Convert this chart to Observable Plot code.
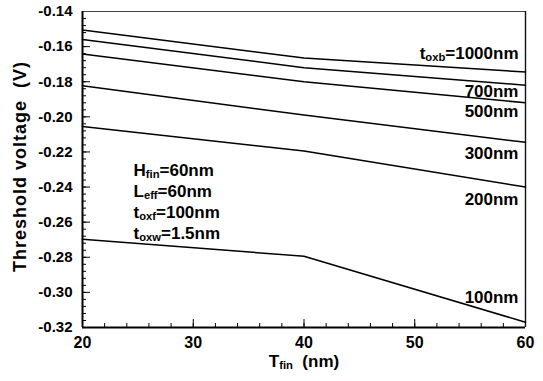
<!DOCTYPE html>
<html><head><meta charset="utf-8">
<script src="https://cdn.jsdelivr.net/npm/d3@7"></script>
<script src="https://cdn.jsdelivr.net/npm/@observablehq/plot@0.6"></script>
<style>
body{margin:0;background:#fff;}
svg text{white-space:pre;}
</style></head><body><div id="chart"></div>
<script>
// ---- data ----
const tfin = [20, 40, 60];
const vth1000 = [-0.1505, -0.1665, -0.1745];
const vth700  = [-0.1560, -0.1720, -0.1820];
const vth500  = [-0.1642, -0.1800, -0.1920];
const vth300  = [-0.1823, -0.1990, -0.2145];
const vth200  = [-0.2055, -0.2195, -0.2400];
const vth100  = [-0.2697, -0.2794, -0.3170];
const seriesNames = ["t{oxb}=1000nm", "700nm", "500nm", "300nm", "200nm", "100nm"];
const seriesValues = [vth1000, vth700, vth500, vth300, vth200, vth100];
const params = ["H{fin}=60nm", "L{eff}=60nm", "t{oxf}=100nm", "t{oxw}=1.5nm"];
const xTicks = [20, 30, 40, 50, 60];
const xTickLabels = ["20", "30", "40", "50", "60"];
const yTicks = [-0.32, -0.30, -0.28, -0.26, -0.24, -0.22, -0.20, -0.18, -0.16, -0.14];
const yTickLabels = ["-0.32", "-0.30", "-0.28", "-0.26", "-0.24", "-0.22", "-0.20", "-0.18", "-0.16", "-0.14"];
const xTitle = "T{fin}  (nm)";
const yTitle = "Threshold voltage  (V)";

// ---- build ----
const xMinor = d3.range(20, 60.001, 2);
const yMinor = d3.range(0, 46).map(i => +(-0.32 + i * 0.004).toFixed(3));
const rows = seriesNames.flatMap((s, i) => tfin.map((t, j) => ({series: s, t, v: seriesValues[i][j]})));
const FONT = "'Liberation Sans', Arial, Helvetica, sans-serif";
const labelDy = [-19, 6, 9, 11, 12, -25];

const plot = Plot.plot({
  width: 543, height: 381,
  marginLeft: 82, marginRight: 18, marginTop: 11, marginBottom: 54,
  x: {domain: [20, 60], label: null},
  y: {domain: [-0.32, -0.14], label: null},
  style: {fontFamily: FONT, fontWeight: "bold", background: "#fff", color: "#000", overflow: "visible"},
  marks: [
    Plot.axisX(xMinor, {tickSize: 4, dy: -4, fill: "none", label: null}),
    Plot.axisX(xTicks, {tickSize: 8, dy: -8, fill: "none", label: null}),
    Plot.axisX(xTicks, {tickSize: 0, tickPadding: 9, fontSize: 16, label: null, tickFormat: d => xTickLabels[xTicks.indexOf(d)]}),
    Plot.axisY(yMinor, {tickSize: 4, dx: 4, fill: "none", label: null}),
    Plot.axisY(yTicks, {tickSize: 8, dx: 8, fill: "none", label: null}),
    Plot.axisY(yTicks, {tickSize: 0, tickPadding: 10, fontSize: 15, label: null, tickFormat: d => yTickLabels[yTicks.indexOf(d)]}),
    Plot.ruleY([-0.14], {stroke: "#444", strokeWidth: 1}),
    Plot.ruleX([60], {stroke: "#111", strokeWidth: 1.4}),
    Plot.ruleX([20], {stroke: "#000", strokeWidth: 2}),
    Plot.ruleY([-0.32], {stroke: "#000", strokeWidth: 2}),
    Plot.line(rows, {x: "t", y: "v", z: "series", stroke: "#000", strokeWidth: 1.5}),
    ...seriesNames.map((s, i) => Plot.text([{t: tfin[tfin.length - 1], v: seriesValues[i][tfin.length - 1], s}],
      {x: "t", y: "v", text: "s", textAnchor: "end", dx: -7, dy: labelDy[i], fontSize: 17, fontWeight: "bold"})),
    ...params.map((p, i) => Plot.text([p], {frameAnchor: "top-left", text: d => d, textAnchor: "start", dx: 51, dy: 152 + 21 * i, fontSize: 17, fontWeight: "bold"})),
    Plot.text([xTitle], {frameAnchor: "bottom", text: d => d, textAnchor: "middle", dy: 39, fontSize: 17, fontWeight: "bold"}),
    Plot.text([yTitle], {frameAnchor: "left", text: d => d, textAnchor: "middle", rotate: -90, dx: -62, dy: -3, fontSize: 18, fontWeight: "bold"})
  ]
});

// subscripts
plot.querySelectorAll("text").forEach(t => {
  const s = t.textContent;
  if (s === yTitle) t.setAttribute("letter-spacing", "1");
  if (!s.includes("{")) return;
  t.textContent = "";
  let shifted = false;
  s.split(/(\{[^}]*\})/).forEach(p => {
    if (!p) return;
    const ts = document.createElementNS("http://www.w3.org/2000/svg", "tspan");
    if (p.startsWith("{")) {
      ts.textContent = p.slice(1, -1);
      ts.setAttribute("font-size", "0.66em");
      ts.setAttribute("dy", "2");
      shifted = true;
    } else {
      ts.textContent = p;
      if (shifted) { ts.setAttribute("dy", "-2"); shifted = false; }
    }
    t.appendChild(ts);
  });
});
document.getElementById("chart").appendChild(plot);
</script></body></html>
